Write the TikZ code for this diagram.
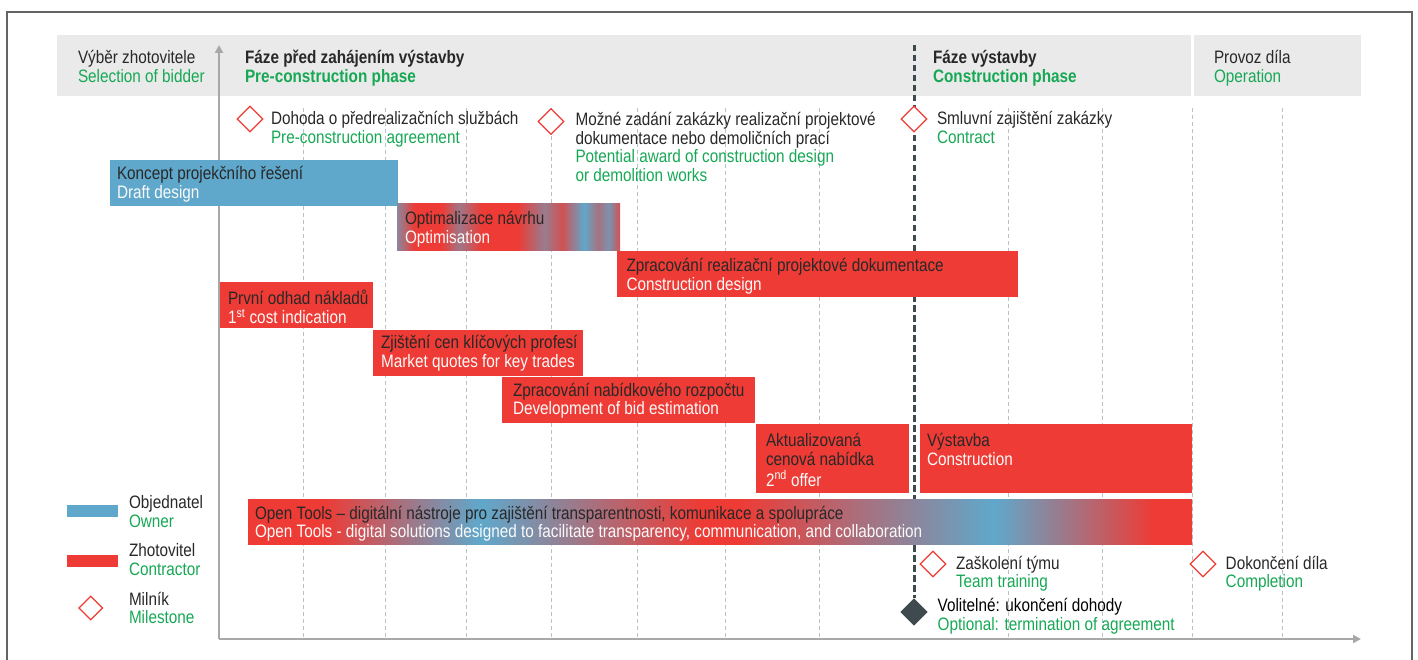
\documentclass[tikz,border=0pt]{standalone}
\usepackage{fontspec}
\setmainfont{Liberation Sans}[FakeStretch=0.85]
\usetikzlibrary{arrows.meta,calc,shapes.geometric}
\definecolor{cblue}{RGB}{95,168,203}
\definecolor{cred}{RGB}{238,59,53}
\definecolor{cgreen}{RGB}{22,168,84}
\definecolor{ctext}{RGB}{40,40,40}
\definecolor{cwhite}{RGB}{250,250,250}
\definecolor{chead}{RGB}{234,234,234}
\definecolor{cgrid}{RGB}{180,194,202}
\definecolor{cdark}{RGB}{62,74,78}
\definecolor{caxis}{RGB}{168,168,168}
\definecolor{cframe}{RGB}{100,100,100}
\pgfdeclarehorizontalshading{opentools}{100bp}{color(0bp)=(cred); color(25bp)=(cred); color(29bp)=(cred); color(37.3bp)=(cblue); color(49bp)=(cred); color(51bp)=(cred); color(64.5bp)=(cblue); color(73bp)=(cred); color(75bp)=(cred); color(100bp)=(cred)}
\pgfdeclarehorizontalshading{optimshade}{100bp}{color(0bp)=(cblue); color(25bp)=(cblue!70!cred); color(29bp)=(cred); color(35bp)=(cred); color(39bp)=(cblue!55!cred); color(44bp)=(cred); color(52bp)=(cred); color(58bp)=(cblue!60!cred); color(62bp)=(cred!80!cblue); color(67bp)=(cblue); color(70bp)=(cblue!50!cred); color(72.5bp)=(cblue!80!cred); color(75bp)=(cred!80!cblue); color(100bp)=(cred)}
\newcommand{\mytab}[1]{\begin{tabular}[t]{@{}l@{}}#1\end{tabular}}
\begin{document}
\begin{tikzpicture}[x=1pt,y=-1pt,
  txt/.style={anchor=base west, inner sep=0pt, outer sep=0pt, font=\fontsize{18}{18.5}\selectfont, text=ctext},
  bar/.style={anchor=north west, inner sep=0pt, outer sep=0pt, minimum height=45.7pt},
  ms/.style={shape=diamond, draw=cred, fill=white, line width=1.3pt, minimum width=26pt, minimum height=26pt, inner sep=0pt},
  gridline/.style={cgrid, line width=0.8pt, dash pattern=on 4pt off 3pt},
  axis/.style={caxis, line width=2pt, -{Triangle[length=8pt,width=8pt]}},
]
\useasboundingbox (0,0) rectangle (1418,660);
% frame
\draw[cframe, line width=2pt] (7,662) -- (7,12) -- (1412,12) -- (1412,662);
% header bands
\fill[chead] (57,35) rectangle (1190.5,96);
\fill[chead] (1194,35) rectangle (1361,96);
% grid lines
\foreach \x in {303,385,466,551,637,725,819,1008,1102,1192,1282}
  \draw[gridline] (\x,108) -- (\x,639);
% axes
\coordinate (O) at (219,639);
\coordinate (Ytop) at (219,45);
\coordinate (Xend) at (1361,639);
\draw[axis] (O) -- (Ytop);
\draw[axis] (O) -- (Xend);
% header texts
\node[txt] (h1) at (78,64) {\mytab{Výběr zhotovitele\\\color{cgreen}Selection of bidder}};
\node[txt] (h2) at (245,64) {\mytab{\bfseries Fáze před zahájením výstavby\\\color{cgreen}\bfseries Pre-construction phase}};
\node[txt] (h3) at (933,64) {\mytab{\bfseries Fáze výstavby\\\color{cgreen}\bfseries Construction phase}};
\node[txt] (h4) at (1214,64) {\mytab{Provoz díla\\\color{cgreen}Operation}};
% optional termination milestone and construction line
\node[ms, fill=cdark, draw=cdark] (m6) at (914,612) {};
\coordinate (ctop) at (914,45);
\draw[cdark, line width=3pt, dash pattern=on 6.5pt off 3.5pt] (ctop) -- (m6.north);
% bars
\node[bar, fill=cblue, minimum width=288pt] (draft) at (110,160) {};
\node[txt] (draftT) at (117,180) {\mytab{Koncept projekčního řešení\\\color{cwhite}Draft design}};
\node[bar, shade, shading=optimshade, minimum width=223pt, minimum height=46.7pt] (optim) at (397,204) {};
\node[txt] (optimT) at (405,224.7) {\mytab{Optimalizace návrhu\\\color{cwhite}Optimisation}};
\node[bar, fill=cred, minimum width=401pt] (cdes) at (617,251) {};
\node[txt] (cdesT) at (626.5,271.7) {\mytab{Zpracování realizační projektové dokumentace\\\color{cwhite}Construction design}};
\node[bar, fill=cred, minimum width=153pt] (cost) at (220,282) {};
\node[txt] (costT) at (228,304) {\mytab{První odhad nákladů\\\color{cwhite}1\textsuperscript{st} cost indication}};
\node[bar, fill=cred, minimum width=210pt] (quote) at (373,330) {};
\node[txt] (quoteT) at (381,348.5) {\mytab{Zjištění cen klíčových profesí\\\color{cwhite}Market quotes for key trades}};
\node[bar, fill=cred, minimum width=253pt] (bid) at (502,377) {};
\node[txt] (bidT) at (513,396) {\mytab{Zpracování nabídkového rozpočtu\\\color{cwhite}Development of bid estimation}};
\node[bar, fill=cred, minimum width=153pt, minimum height=68.5pt] (offer) at (756,424) {};
\node[txt] (offerT) at (766,446.5) {\mytab{Aktualizovaná\\cenová nabídka\\\color{cwhite}2\textsuperscript{nd} offer}};
\node[bar, fill=cred, minimum width=272pt, minimum height=68.5pt] (build) at (920,424) {};
\node[txt] (buildT) at (927,446.5) {\mytab{Výstavba\\\color{cwhite}Construction}};
\node[bar, shade, shading=opentools, minimum width=944pt] (tools) at (248,499) {};
\node[txt] (toolsT) at (255,519) {\mytab{Open Tools – digitální nástroje pro zajištění transparentnosti, komunikace a spolupráce\\\color{cwhite}Open Tools - digital solutions designed to facilitate transparency, communication, and collaboration}};
% milestones
\node[ms] (m1) at (250,119) {};
\node[txt] (m1T) at (271,125) {\mytab{Dohoda o předrealizačních službách\\\color{cgreen}Pre-construction agreement}};
\node[ms] (m2) at (551,121.5) {};
\node[txt] (m2T) at (575.5,125.5) {\mytab{Možné zadání zakázky realizační projektové\\dokumentace nebo demoličních prací\\\color{cgreen}Potential award of construction design\\\color{cgreen}or demolition works}};
\node[ms] (m3) at (914,119) {};
\node[txt] (m3T) at (937,125) {\mytab{Smluvní zajištění zakázky\\\color{cgreen}Contract}};
\node[ms] (m4) at (933,564) {};
\node[txt] (m4T) at (956,569.3) {\mytab{Zaškolení týmu\\\color{cgreen}Team training}};
\node[ms] (m5) at (1203,564) {};
\node[txt] (m5T) at (1225.7,569.3) {\mytab{Dokončení díla\\\color{cgreen}Completion}};
\node[txt, text=black] (m6T) at (937.7,611.7) {\mytab{Volitelné: ukončení dohody\\\color{cgreen}Optional: termination of agreement}};
% legend
\node[bar, fill=cblue, minimum width=51pt, minimum height=12pt] (lg1) at (67,505) {};
\node[txt] (lg1T) at (129,508.7) {\mytab{Objednatel\\\color{cgreen}Owner}};
\node[bar, fill=cred, minimum width=51pt, minimum height=12pt] (lg2) at (67,555) {};
\node[txt] (lg2T) at (129,556.7) {\mytab{Zhotovitel\\\color{cgreen}Contractor}};
\node[ms, minimum width=24pt, minimum height=24pt] (lg3) at (90.7,608) {};
\node[txt] (lg3T) at (129,605.3) {\mytab{Milník\\\color{cgreen}Milestone}};
\end{tikzpicture}
\end{document}
